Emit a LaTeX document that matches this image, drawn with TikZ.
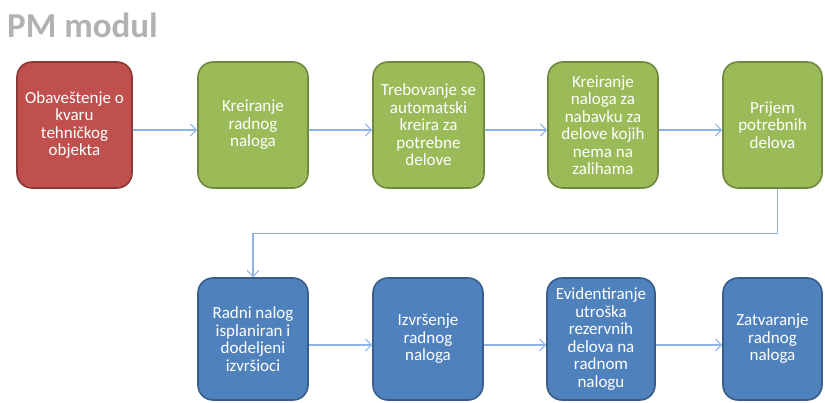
\documentclass[tikz,border=0pt]{standalone}
\usepackage{fontspec}
\setmainfont{Carlito}
\usetikzlibrary{arrows.meta}
\definecolor{redfill}{HTML}{C0504D}
\definecolor{redline}{HTML}{8C3836}
\definecolor{grnfill}{HTML}{9BBB59}
\definecolor{grnline}{HTML}{71893F}
\definecolor{blufill}{HTML}{4F81BD}
\definecolor{bluline}{HTML}{385D8A}
\definecolor{conn}{HTML}{8EB4E3}
\tikzset{
  box/.style={rounded corners=15pt, line width=1.6pt, text=white, align=center,
    font=\fontsize{17}{17.5}\selectfont, inner sep=0pt},
  redbox/.style={box, fill=redfill, draw=redline},
  grnbox/.style={box, fill=grnfill, draw=grnline},
  blubox/.style={box, fill=blufill, draw=bluline},
  link/.style={draw=conn, line width=1.2pt, -{Straight Barb[length=6pt,width=12pt,line width=1.1pt]}},
}
\begin{document}
\begin{tikzpicture}[x=1pt,y=-1pt]
\useasboundingbox (0,0) rectangle (825,403);
\node[anchor=base west, inner sep=0pt, text=gray!60, font=\fontsize{35}{35}\bfseries\selectfont] (title) at (7,38) {PM modul};
% top row
\node[redbox, minimum width=115pt, minimum height=126pt] (t1) at (74.5,125) {Obaveštenje o\\kvaru\\tehničkog\\objekta};
\node[grnbox, minimum width=110pt, minimum height=126pt] (t2) at (253,125) {Kreiranje\\radnog\\naloga};
\node[grnbox, minimum width=111pt, minimum height=126pt] (t3) at (428.5,125) {Trebovanje se\\automatski\\kreira za\\potrebne\\delove};
\node[grnbox, minimum width=110pt, minimum height=126pt] (t4) at (603,125) {Kreiranje\\naloga za\\nabavku za\\delove kojih\\nema na\\zalihama};
\node[grnbox, minimum width=99pt, minimum height=126pt] (t5) at (772.5,125) {Prijem\\potrebnih\\delova};
% bottom row
\node[blubox, minimum width=110pt, minimum height=122pt] (b1) at (253,339) {Radni nalog\\isplaniran i\\dodeljeni\\izvršioci};
\node[blubox, minimum width=110pt, minimum height=122pt] (b2) at (428,339) {Izvršenje\\radnog\\naloga};
\node[blubox, minimum width=108pt, minimum height=122pt] (b3) at (601,339) {Evidentiranje\\utroška\\rezervnih\\delova na\\radnom\\nalogu};
\node[blubox, minimum width=99pt, minimum height=122pt] (b4) at (772.5,339) {Zatvaranje\\radnog\\naloga};
% connectors
\draw[link] ([yshift=-5pt]t1.east) -- ([yshift=-5pt]t2.west);
\draw[link] ([yshift=-5pt]t2.east) -- ([yshift=-5pt]t3.west);
\draw[link] ([yshift=-5pt]t3.east) -- ([yshift=-5pt]t4.west);
\draw[link] ([yshift=-5pt]t4.east) -- ([yshift=-5pt]t5.west);
\draw[link] ([xshift=5pt]t5.south) -- ++(0,45) -| (b1.north);
\draw[link] ([yshift=-6pt]b1.east) -- ([yshift=-6pt]b2.west);
\draw[link] ([yshift=-6pt]b2.east) -- ([yshift=-6pt]b3.west);
\draw[link] ([yshift=-6pt]b3.east) -- ([yshift=-6pt]b4.west);
\end{tikzpicture}
\end{document}
